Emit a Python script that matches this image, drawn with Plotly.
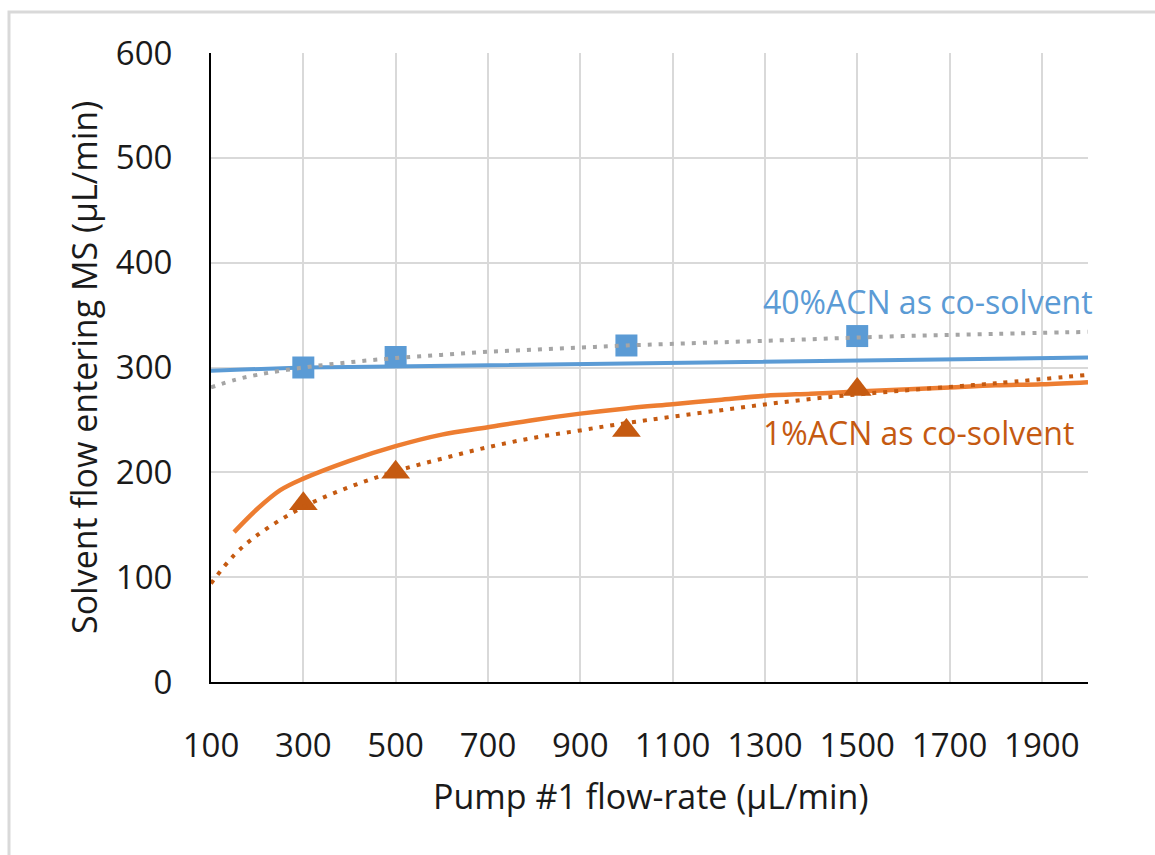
import plotly.graph_objects as go

# Measured points
pump_flow_pts = [300, 500, 1000, 1500]
acn40_measured = [300, 310, 321, 330]
acn1_measured = [170, 200, 240, 279]

# Model curves
model_x_40 = [100, 200, 300, 400, 500, 600, 700, 800, 900, 1000, 1100, 1200,
              1300, 1400, 1500, 1600, 1700, 1800, 1900, 2000]
model_acn40 = [297, 298.5, 300, 300.5, 301, 302, 302.5, 303, 303.5, 304, 304.5,
               305, 305.5, 306, 306.5, 307.5, 308, 308.5, 309, 309.5]
model_x_1 = [150, 200, 250, 300, 400, 500, 600, 700, 800, 900, 1000, 1100, 1200,
             1300, 1400, 1500, 1600, 1700, 1800, 1900, 2000]
model_acn1 = [143, 165, 183, 194, 211, 225, 236, 243, 250, 256, 261, 265, 269,
              273, 275, 277, 279, 281, 283, 284, 286]

# Logarithmic trendlines through the measured points
trend_x = [100, 150, 200, 300, 400, 500, 600, 700, 800, 900, 1000, 1200, 1400,
           1600, 1800, 2000]
trend_acn40 = [281, 288, 293, 300, 305, 309, 312, 315, 317, 319, 321, 324, 327,
               330, 332, 334]
trend_acn1 = [94, 121, 140, 167, 186, 201, 213, 224, 233, 240, 247, 259, 270,
              278, 285, 293]

x_ticks = [100, 300, 500, 700, 900, 1100, 1300, 1500, 1700, 1900]
y_ticks = [0, 100, 200, 300, 400, 500, 600]

BLUE = "#5B9BD5"
ORANGE = "#ED7D31"
DARK_ORANGE = "#C55A11"
GREY = "#A5A5A5"
FONT = "Open Sans"
TXT = "#1a1a1a"

fig = go.Figure()

fig.add_trace(go.Scatter(x=model_x_40, y=model_acn40, mode="lines",
                         line=dict(color=BLUE, width=4), showlegend=False))
fig.add_trace(go.Scatter(x=model_x_1, y=model_acn1, mode="lines",
                         line=dict(color=ORANGE, width=4.5, shape="spline"),
                         showlegend=False))
fig.add_trace(go.Scatter(x=pump_flow_pts, y=acn40_measured, mode="markers",
                         marker=dict(symbol="square", size=22, color=BLUE),
                         showlegend=False))
fig.add_trace(go.Scatter(x=pump_flow_pts, y=acn1_measured, mode="markers",
                         marker=dict(symbol="triangle-up", size=25, color=DARK_ORANGE),
                         showlegend=False))
fig.add_trace(go.Scatter(x=trend_x, y=trend_acn40, mode="lines",
                         line=dict(color=GREY, width=4, dash="4px,7px", shape="spline"),
                         showlegend=False))
fig.add_trace(go.Scatter(x=trend_x, y=trend_acn1, mode="lines",
                         line=dict(color=DARK_ORANGE, width=4, dash="4px,7px", shape="spline"),
                         showlegend=False))

# Plot-area geometry in pixels, used to place the surrounding frame
L, R, T, B = 211, 1088, 53, 682
W, H = 1155, 855
pw, ph = R - L, B - T

def px_x(p):
    return (p - L) / pw

def px_y(p):
    return (B - p) / ph

fig.add_shape(type="rect", xref="paper", yref="paper",
              x0=px_x(9), x1=px_x(1170), y0=px_y(12), y1=px_y(870),
              line=dict(color="#D9D9D9", width=3), fillcolor="rgba(0,0,0,0)",
              layer="below")

fig.add_annotation(x=1292, y=363, xref="x", yref="y", text="40%ACN as co-solvent",
                   showarrow=False, xanchor="left", yanchor="middle",
                   font=dict(family=FONT, size=32, color=BLUE))
fig.add_annotation(x=1292, y=238, xref="x", yref="y", text="1%ACN as co-solvent",
                   showarrow=False, xanchor="left", yanchor="middle",
                   font=dict(family=FONT, size=32, color=DARK_ORANGE))

fig.add_annotation(x=px_x(650), y=px_y(796), xref="paper", yref="paper",
                   text="Pump #1 flow-rate (µL/min)", showarrow=False,
                   xanchor="center", yanchor="middle",
                   font=dict(family=FONT, size=34, color=TXT))
fig.add_annotation(x=px_x(84), y=px_y(368), xref="paper", yref="paper",
                   text="Solvent flow entering MS (µL/min)", showarrow=False,
                   textangle=-90, xanchor="center", yanchor="middle",
                   font=dict(family=FONT, size=34, color=TXT))

fig.update_layout(
    width=W, height=H,
    margin=dict(l=L, r=W - R, t=T, b=H - B, pad=0),
    paper_bgcolor="white", plot_bgcolor="white",
    font=dict(family=FONT, size=33, color=TXT),
    xaxis=dict(range=[100, 2000], tickmode="array", tickvals=x_ticks,
               ticktext=[str(v) for v in x_ticks],
               showgrid=True, gridcolor="#D9D9D9", gridwidth=2,
               showline=True, linecolor="#000000", linewidth=2,
               ticks="", ticklabelstandoff=33, zeroline=False,
               tickfont=dict(family=FONT, size=33, color=TXT)),
    yaxis=dict(range=[0, 600], tickmode="array", tickvals=y_ticks,
               ticktext=[str(v) for v in y_ticks],
               showgrid=True, gridcolor="#D9D9D9", gridwidth=2,
               showline=True, linecolor="#000000", linewidth=2,
               ticks="", ticklabelstandoff=30, zeroline=False,
               tickfont=dict(family=FONT, size=33, color=TXT)),
)

fig.write_html("out.html")
